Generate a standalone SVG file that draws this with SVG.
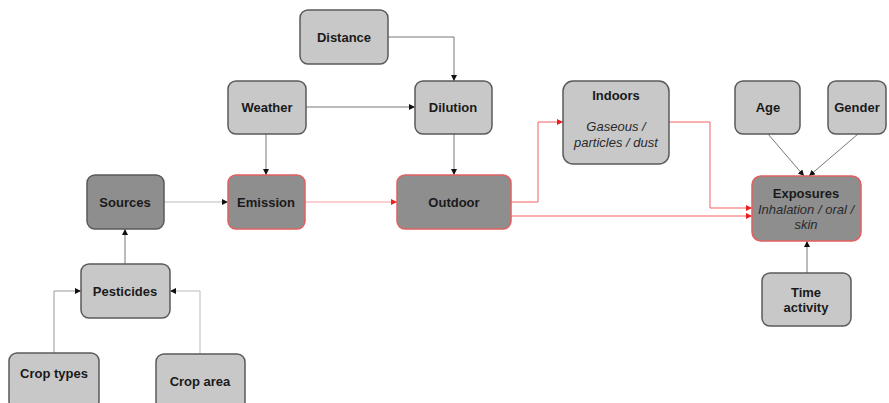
<svg xmlns="http://www.w3.org/2000/svg" width="889" height="403" viewBox="0 0 889 403">
<defs>
<style>
.l{fill:#c8c8c8;stroke:#5a5a5a;stroke-width:1.5}
.d{fill:#8e8e8e;stroke:#5a5a5a;stroke-width:1.5}
.r{stroke:#e06060}
text{font-family:"Liberation Sans",Arial,sans-serif;font-size:13px;fill:#1a1a1a;text-anchor:middle}
.b{font-weight:bold}
.i{font-style:italic;fill:#2a2a2a}
.c{fill:none;stroke:#777;stroke-width:1}
.cr{fill:none;stroke:#f06060;stroke-width:1}
</style>
<marker id="ah" viewBox="0 0 10 10" refX="10" refY="5" markerWidth="6" markerHeight="6" orient="auto" markerUnits="userSpaceOnUse"><path d="M0,0L10,5L0,10z" fill="#111"/></marker>
<marker id="ar" viewBox="0 0 10 10" refX="10" refY="5" markerWidth="6" markerHeight="6" orient="auto" markerUnits="userSpaceOnUse"><path d="M0,0L10,5L0,10z" fill="#e82020"/></marker>
</defs>
<rect width="889" height="403" fill="#fff"/>
<g id="connectors">
<path class="c" d="M388,37H454V81" marker-end="url(#ah)"/>
<path class="c" d="M306,107H415" marker-end="url(#ah)"/>
<path class="c" d="M266,134V175" marker-end="url(#ah)"/>
<path class="c" d="M454,134V175" marker-end="url(#ah)"/>
<path class="c" style="stroke:#bbb" d="M164,202H228" marker-end="url(#ah)"/>
<path class="cr" style="stroke:#f8a0a0" d="M305,202H397" marker-end="url(#ar)"/>
<path class="cr" d="M511,202H538V122H563" marker-end="url(#ar)"/>
<path class="cr" d="M511,216H752" marker-end="url(#ar)"/>
<path class="cr" d="M669,122H710V208H752" marker-end="url(#ar)"/>
<path class="c" d="M768,134L804,176" marker-end="url(#ah)"/>
<path class="c" d="M858,134L809,176" marker-end="url(#ah)"/>
<path class="c" d="M807,273V241" marker-end="url(#ah)"/>
<path class="c" d="M125,264V229" marker-end="url(#ah)"/>
<path class="c" style="stroke:#999" d="M54,353V291H81" marker-end="url(#ah)"/>
<path class="c" style="stroke:#bbb" d="M200,354V291H170" marker-end="url(#ah)"/>
</g>
<g id="distance"><rect class="l" x="300" y="10" width="88" height="54" rx="8"/><text class="b" x="344" y="42">Distance</text></g>
<g id="weather"><rect class="l" x="228" y="81" width="78" height="53" rx="8"/><text class="b" x="267" y="112">Weather</text></g>
<g id="dilution"><rect class="l" x="415" y="81" width="77" height="53" rx="8"/><text class="b" x="453" y="112">Dilution</text></g>
<g id="sources"><rect class="d" x="87" y="175" width="77" height="54" rx="8"/><text class="b" x="125" y="207">Sources</text></g>
<g id="emission"><rect class="d r" x="228" y="175" width="77" height="54" rx="8"/><text class="b" x="266" y="207">Emission</text></g>
<g id="outdoor"><rect class="d r" x="397" y="175" width="114" height="54" rx="8"/><text class="b" x="454" y="207">Outdoor</text></g>
<g id="indoors"><rect class="l" x="563" y="81" width="106" height="83" rx="10"/><text class="b" x="616" y="100">Indoors</text><text class="i" x="616" y="131">Gaseous /</text><text class="i" x="616" y="147">particles / dust</text></g>
<g id="age"><rect class="l" x="735" y="81" width="65" height="53" rx="8"/><text class="b" x="768" y="112">Age</text></g>
<g id="gender"><rect class="l" x="828" y="81" width="58" height="53" rx="8"/><text class="b" x="857" y="112">Gender</text></g>
<g id="exposures"><rect class="d r" x="752" y="176" width="109" height="65" rx="9"/><text class="b" x="806" y="198">Exposures</text><text class="i" x="806" y="214">Inhalation / oral /</text><text class="i" x="806" y="229">skin</text></g>
<g id="time-activity"><rect class="l" x="762" y="273" width="89" height="53" rx="8"/><text class="b" x="806" y="297">Time</text><text class="b" x="806" y="312">activity</text></g>
<g id="pesticides"><rect class="l" x="81" y="264" width="89" height="54" rx="8"/><text class="b" x="125" y="296">Pesticides</text></g>
<g id="crop-types"><rect class="l" x="9" y="353" width="90" height="56" rx="8"/><text class="b" x="54" y="378">Crop types</text></g>
<g id="crop-area"><rect class="l" x="156" y="354" width="89" height="56" rx="8"/><text class="b" x="200" y="386">Crop area</text></g>
</svg>
